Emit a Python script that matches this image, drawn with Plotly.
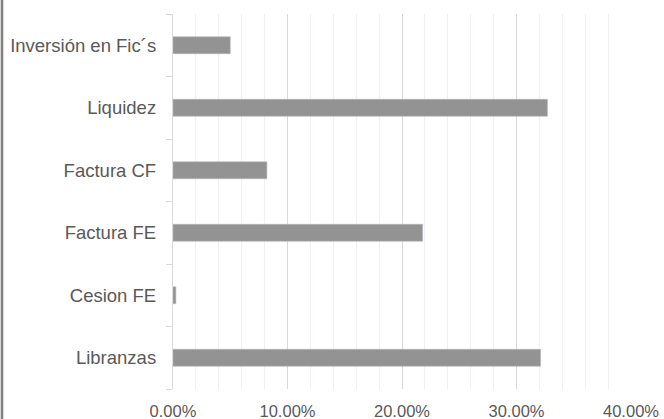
import plotly.graph_objects as go

categories = ["Libranzas", "Cesion FE", "Factura FE", "Factura CF", "Liquidez", "Inversión en Fic´s"]
values = [0.321, 0.0025, 0.218, 0.082, 0.327, 0.050]
x_tickvals = [0, 0.1, 0.2, 0.3, 0.4]

W, H = 664, 419
L, R, T, B = 172.5, 33, 14, 30
pw = W - L - R
ph = H - T - B

fig = go.Figure(go.Bar(
    x=values, y=categories, orientation="h",
    marker=dict(color="#939393", line=dict(color="#b5b5b5", width=0.6)),
    width=0.27,
))

fig.update_layout(
    width=W, height=H,
    margin=dict(l=L, r=R, t=T, b=B, autoexpand=False),
    paper_bgcolor="white", plot_bgcolor="white",
    font=dict(family="Liberation Sans, Arial, sans-serif", color="#595959"),
    showlegend=False,
)
fig.update_xaxes(
    range=[0, 0.4], tickvals=x_tickvals, tickformat=".2%",
    showgrid=True, gridcolor="#d9d9d9", gridwidth=1.3,
    minor=dict(dtick=0.02, showgrid=True, gridcolor="#edf1f6", gridwidth=1),
    zeroline=False, showline=False, ticks="",
    tickfont=dict(size=16.5, color="#595959"),
    ticklabelstandoff=10,
    automargin=False, fixedrange=True,
)
fig.update_yaxes(
    type="category", categoryorder="array", categoryarray=categories,
    showgrid=False, showline=True, linecolor="#d9d9d9", linewidth=1.3,
    ticks="outside", tickson="boundaries", ticklen=6, tickcolor="#d9d9d9", tickwidth=1.3,
    tickfont=dict(size=18.5, color="#595959"),
    ticklabelstandoff=12,
    automargin=False, fixedrange=True,
)
# left border line of the image
fig.add_shape(type="line", xref="paper", yref="paper",
              x0=-(L - 1.3) / pw, x1=-(L - 1.3) / pw,
              y0=-B / ph, y1=1 + T / ph,
              line=dict(color="#808080", width=2.6))

fig.write_html("out.html", config={"displayModeBar": False},
               post_script="document.body.style.margin='0';document.body.style.overflow='hidden';")
